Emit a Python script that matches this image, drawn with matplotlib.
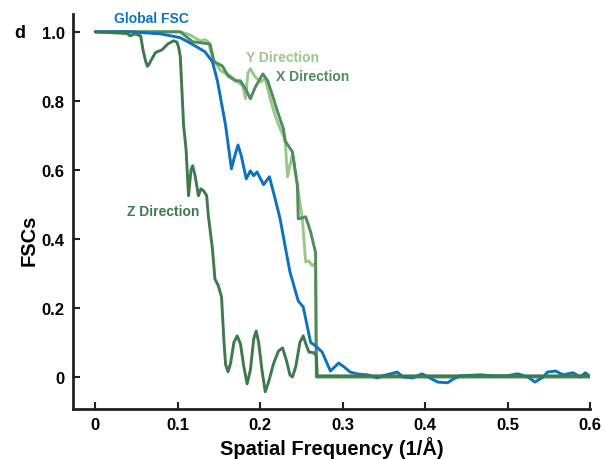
import matplotlib
matplotlib.use("Agg")
import matplotlib.pyplot as plt

plt.rcParams['font.family'] = ['Liberation Sans', 'DejaVu Sans']

# Global FSC
global_x = [0.0, 0.042, 0.079, 0.103, 0.119, 0.133, 0.142, 0.148, 0.152, 0.158, 0.165, 0.169, 0.173, 0.177,
            0.183, 0.188, 0.192, 0.196, 0.204, 0.211, 0.218, 0.224, 0.230, 0.236, 0.246, 0.252, 0.261, 0.267,
            0.275, 0.285, 0.295, 0.301, 0.309, 0.319, 0.330, 0.342, 0.348, 0.366, 0.373, 0.385, 0.396,
            0.415, 0.427, 0.434, 0.442, 0.467, 0.482, 0.499, 0.512, 0.524, 0.533, 0.543, 0.548, 0.558,
            0.567, 0.579, 0.588, 0.594, 0.600]
global_y = [1.0, 1.0, 0.994, 0.983, 0.962, 0.942, 0.913, 0.858, 0.806, 0.728, 0.603, 0.64, 0.672, 0.64,
            0.574, 0.597, 0.583, 0.594, 0.557, 0.58, 0.516, 0.458, 0.38, 0.304, 0.22, 0.203, 0.10, 0.09,
            0.072, 0.017, 0.04, 0.03, 0.014, 0.008, 0.006, -0.003, 0.003, 0.014, 0.0, -0.003, 0.009,
            -0.015, -0.017, -0.006, 0.003, 0.006, 0.003, 0.003, 0.009, 0.0, -0.015, 0.0, 0.014, 0.017,
            0.006, 0.012, 0.0, 0.012, 0.0]

# Y direction
ydir_x = [0.0, 0.103, 0.115, 0.127, 0.133, 0.137, 0.142, 0.152, 0.164, 0.171, 0.179, 0.182, 0.185,
          0.188, 0.193, 0.200, 0.206, 0.212, 0.218, 0.224, 0.230, 0.233, 0.239, 0.245, 0.251, 0.255,
          0.259, 0.263, 0.267, 0.268, 0.600]
ydir_y = [1.0, 1.0, 0.991, 0.974, 0.977, 0.971, 0.925, 0.887, 0.872, 0.858, 0.843, 0.806, 0.88,
          0.893, 0.872, 0.855, 0.864, 0.806, 0.757, 0.719, 0.69, 0.58, 0.646, 0.554, 0.458, 0.333,
          0.336, 0.322, 0.33, 0.0, 0.0]

# X direction
xdir_x = [0.0, 0.103, 0.118, 0.139, 0.144, 0.154, 0.161, 0.170, 0.176, 0.182, 0.188, 0.194, 0.203,
          0.209, 0.215, 0.221, 0.228, 0.230, 0.239, 0.245, 0.246, 0.255, 0.261, 0.267, 0.268, 0.600]
xdir_y = [1.0, 1.0, 0.971, 0.965, 0.913, 0.901, 0.872, 0.858, 0.858, 0.835, 0.806, 0.84, 0.878,
          0.858, 0.814, 0.768, 0.719, 0.684, 0.652, 0.554, 0.458, 0.464, 0.42, 0.36, 0.0, 0.0]

# Z direction
zdir_x = [0.0, 0.039, 0.042, 0.048, 0.055, 0.058, 0.061, 0.063, 0.065, 0.067, 0.073, 0.081, 0.088, 0.095,
          0.099, 0.101, 0.103, 0.105, 0.107, 0.110, 0.113, 0.116, 0.118, 0.121, 0.125, 0.128, 0.131, 0.135,
          0.137, 0.142, 0.145, 0.149, 0.153, 0.156, 0.158, 0.161, 0.164, 0.168, 0.172, 0.176, 0.180,
          0.184, 0.188, 0.192, 0.195, 0.198, 0.202, 0.206, 0.210, 0.216, 0.222, 0.227, 0.232, 0.236,
          0.239, 0.243, 0.248, 0.252, 0.256, 0.259, 0.265, 0.268, 0.269, 0.600]
zdir_y = [1.0, 0.995, 0.988, 0.994, 0.988, 0.945, 0.915, 0.90, 0.905, 0.915, 0.94, 0.948, 0.965, 0.974,
          0.97, 0.955, 0.928, 0.83, 0.73, 0.66, 0.525, 0.60, 0.612, 0.583, 0.525, 0.545, 0.54, 0.525,
          0.467, 0.371, 0.284, 0.265, 0.232, 0.10, 0.035, 0.015, 0.04, 0.10, 0.119, 0.095, 0.03,
          -0.02, 0.02, 0.11, 0.133, 0.10, 0.02, -0.043, -0.015, 0.038, 0.075, 0.084, 0.045, 0.005,
          0.0, 0.03, 0.10, 0.119, 0.09, 0.072, 0.07, 0.06, 0.003, 0.003]

x_ticks = [0, 0.1, 0.2, 0.3, 0.4, 0.5, 0.6]
x_tick_labels = ['0', '0.1', '0.2', '0.3', '0.4', '0.5', '0.6']
y_ticks = [0, 0.2, 0.4, 0.6, 0.8, 1.0]
y_tick_labels = ['0', '0.2', '0.4', '0.6', '0.8', '1.0']

c_blue = '#0d72c2'
c_y = '#9cc78a'
c_x = '#508c5c'
c_z = '#3f7a4f'

fig = plt.figure(figsize=(6.05, 4.6), dpi=100)
ax = fig.add_axes([0.1207, 0.1087, 0.855, 0.859])

lw = 2.1
kw = dict(lw=lw, solid_joinstyle='round', solid_capstyle='round')
ax.plot(ydir_x, ydir_y, color=c_y, zorder=2, **kw)
ax.plot(xdir_x, xdir_y, color=c_x, zorder=3, **kw)
ax.plot(global_x, global_y, color=c_blue, zorder=4, **kw)
ax.plot(zdir_x, zdir_y, color=c_z, zorder=5, **kw)

ax.set_xlim(-0.027, 0.6)
ax.set_ylim(-0.093, 1.052)
ax.set_xticks(x_ticks)
ax.set_xticklabels(x_tick_labels)
ax.set_yticks(y_ticks)
ax.set_yticklabels(y_tick_labels)

for s in ['top', 'right']:
    ax.spines[s].set_visible(False)
for s in ['left', 'bottom']:
    ax.spines[s].set_linewidth(2.0)
    ax.spines[s].set_color('#222222')
ax.tick_params(direction='in', length=5, width=1.5, color='#222222', labelsize=12, pad=6)
for lab in ax.get_xticklabels() + ax.get_yticklabels():
    lab.set_fontweight('bold')

ax.set_xlabel('Spatial Frequency (1/Å)', fontsize=14.5, fontweight='bold', labelpad=3)
ax.set_ylabel('FSCs', fontsize=14.5, fontweight='bold')
ax.yaxis.set_label_coords(-0.066, 0.43)

ax.text(0.023, 1.04, 'Global FSC', color=c_blue, fontsize=10, fontweight='bold', va='center', ha='left')
ax.text(0.183, 0.928, 'Y Direction', color=c_y, fontsize=10, fontweight='bold', va='center', ha='left')
ax.text(0.219, 0.872, 'X Direction', color=c_x, fontsize=10, fontweight='bold', va='center', ha='left')
ax.text(0.039, 0.481, 'Z Direction', color=c_z, fontsize=10, fontweight='bold', va='center', ha='left')

fig.text(14 / 605, 1 - 33 / 460, 'd', fontsize=13, fontweight='bold', va='center', ha='left')

fig.savefig('out.png', dpi=100)
